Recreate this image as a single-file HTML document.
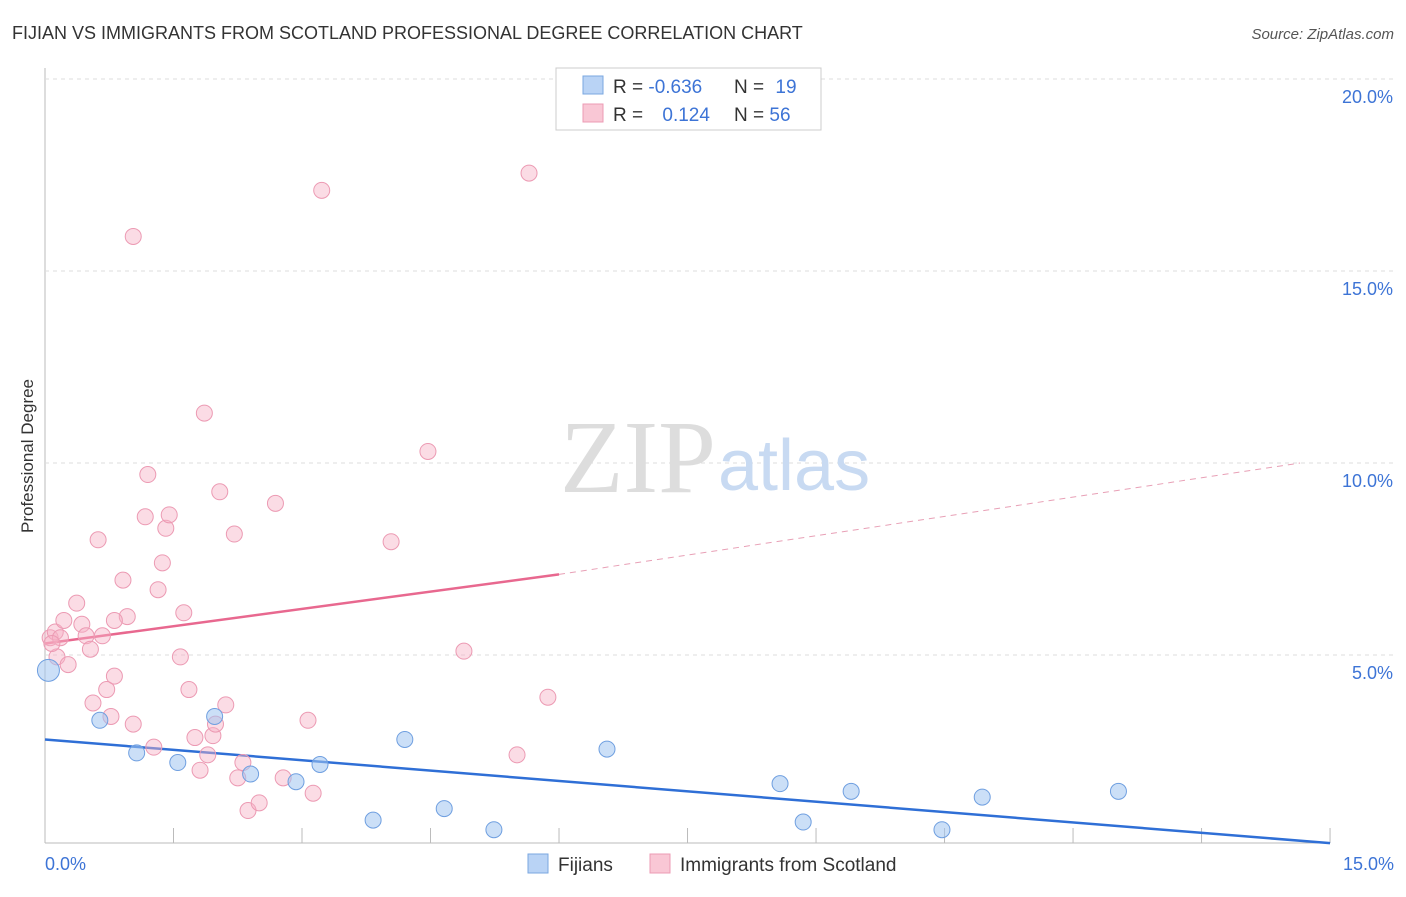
<!DOCTYPE html>
<html><head><meta charset="utf-8"><style>
body{margin:0;background:#fff;font-family:"Liberation Sans",sans-serif;}
svg text{font-family:"Liberation Sans",sans-serif;}
</style></head><body>
<svg id="chart" width="1406" height="892">
<text x="12" y="39" font-size="18" fill="#333">FIJIAN VS IMMIGRANTS FROM SCOTLAND PROFESSIONAL DEGREE CORRELATION CHART</text>
<text x="1394" y="39" font-size="15" fill="#555" font-style="italic" text-anchor="end">Source: ZipAtlas.com</text>
<text x="0" y="0" transform="translate(33,456) rotate(-90)" font-size="17" fill="#333" text-anchor="middle">Professional Degree</text>
<g id="grid"></g>
<text x="716" y="492" font-size="104" fill="#ddd" text-anchor="end" style="font-family:'Liberation Serif',serif">ZIP</text>
<text x="718" y="490" font-size="72" fill="#c8daf2">atlas</text>
<g id="lines"></g>
<g id="pts"></g>
<g>
<rect x="556" y="68" width="265" height="62" fill="#fff" stroke="#ccc"/>
<rect x="583" y="76" width="20" height="18" fill="#b9d3f5" stroke="#7aa7e0"/>
<rect x="583" y="104" width="20" height="18" fill="#f9c7d5" stroke="#ec9bb4"/>
<text x="613" y="93" font-size="19" fill="#333">R = <tspan fill="#3d74d6">-0.636</tspan></text>
<text x="734" y="93" font-size="19" fill="#333">N = <tspan fill="#3d74d6" dx="6">19</tspan></text>
<text x="613" y="121" font-size="19" fill="#333">R = <tspan fill="#3d74d6" dx="14">0.124</tspan></text>
<text x="734" y="121" font-size="19" fill="#333">N = <tspan fill="#3d74d6">56</tspan></text>
</g>
<g>
<rect x="528" y="854" width="20" height="19" fill="#b9d3f5" stroke="#7aa7e0"/>
<text x="558" y="871" font-size="19" fill="#333">Fijians</text>
<rect x="650" y="854" width="20" height="19" fill="#f9c7d5" stroke="#ec9bb4"/>
<text x="680" y="871" font-size="19" fill="#333">Immigrants from Scotland</text>
</g>
<text x="45" y="870" font-size="18" fill="#3d74d6">0.0%</text>
<text x="1394" y="870" font-size="18" fill="#3d74d6" text-anchor="end">15.0%</text>
</svg>
<script>
const yTicks=[5,10,15,20];
const fijiX=[0.04,0.64,1.07,1.55,1.98,2.4,2.93,3.21,3.83,4.2,4.66,5.24,6.56,8.58,8.85,9.41,10.47,10.94,12.53];
const fijiY=[4.6,3.3,2.45,2.2,3.4,1.9,1.7,2.15,0.7,2.8,1.0,0.45,2.55,1.65,0.65,1.45,0.45,1.3,1.45];
const scotX=[0.06,0.12,0.18,0.14,0.22,0.27,0.37,0.43,0.48,0.53,0.56,0.62,0.67,0.72,0.77,0.81,0.91,0.96,0.81,1.03,1.03,1.17,1.2,1.27,1.32,1.37,1.41,1.45,1.58,1.62,1.68,1.75,1.81,1.86,1.9,1.96,1.99,2.04,2.11,2.21,2.25,2.31,2.37,2.5,2.69,2.78,3.07,3.13,3.23,4.04,4.47,4.89,5.51,5.65,5.87,0.08];
const scotY=[5.45,5.6,5.45,4.95,5.9,4.75,6.35,5.8,5.5,5.15,3.75,8.0,5.5,4.1,3.4,4.45,6.95,6.0,5.9,3.2,15.9,8.6,9.7,2.6,6.7,7.4,8.3,8.65,4.95,6.1,4.1,2.85,2.0,11.3,2.4,2.9,3.2,9.25,3.7,8.15,1.8,2.2,0.95,1.15,8.95,1.8,3.3,1.4,17.1,7.95,10.3,5.1,2.4,17.55,3.9,5.3];
const fijiLine=[[0,2.8],[15,0.1]];
const scotLine=[[0,5.3],[6,7.1],[14.65,10.0]];
const X=v=>45+v*85.67, Y=v=>847-v*38.4;
const NS='http://www.w3.org/2000/svg';
function mk(t,a,p){const e=document.createElementNS(NS,t);for(const k in a)e.setAttribute(k,a[k]);p.appendChild(e);return e;}
const grid=document.getElementById('grid');
const ax=mk('line',{x1:45,y1:68,x2:45,y2:843,stroke:'#bbb'},grid);


const bx=mk('line',{x1:45,y1:843,x2:1330,y2:843,stroke:'#bbb'},grid);


for(let i=0;i<=10;i++){const t=mk('line',{x1:X(i*1.5),y1:828,x2:X(i*1.5),y2:843,stroke:'#bbb'},grid);

}
yTicks.forEach(v=>{const g=mk('line',{x1:45,y1:Y(v),x2:1394,y2:Y(v),stroke:'#ddd','stroke-dasharray':'4,4'},grid);


const t=mk('text',{x:1393,y:Y(v)+24,'font-size':18,fill:'#3d74d6','text-anchor':'end'},grid);t.textContent=v.toFixed(1)+'%';

});
const L=document.getElementById('lines');
const bl=mk('line',{x1:X(fijiLine[0][0]),y1:Y(fijiLine[0][1]),x2:X(fijiLine[1][0]),y2:Y(fijiLine[1][1]),stroke:'#2f6fd6','stroke-width':2.5},L);


const pl=mk('line',{x1:X(scotLine[0][0]),y1:Y(scotLine[0][1]),x2:X(scotLine[1][0]),y2:Y(scotLine[1][1]),stroke:'#e8688f','stroke-width':2.5},L);


const pd=mk('line',{x1:X(scotLine[1][0]),y1:Y(scotLine[1][1]),x2:X(scotLine[2][0]),y2:Y(scotLine[2][1]),stroke:'#e8a0b6','stroke-width':1,'stroke-dasharray':'6,5'},L);


const P=document.getElementById('pts');
scotX.forEach((v,i)=>{const c=mk('circle',{cx:X(v),cy:Y(scotY[i]),r:8,fill:'rgba(246,178,198,0.45)',stroke:'#ec9ab3','stroke-width':1},P);

});
fijiX.forEach((v,i)=>{const c=mk('circle',{cx:X(v),cy:Y(fijiY[i]),r:i==0?11:8,fill:'rgba(160,196,240,0.55)',stroke:'#6f9fe0','stroke-width':1},P);

});
</script>
</body></html>
